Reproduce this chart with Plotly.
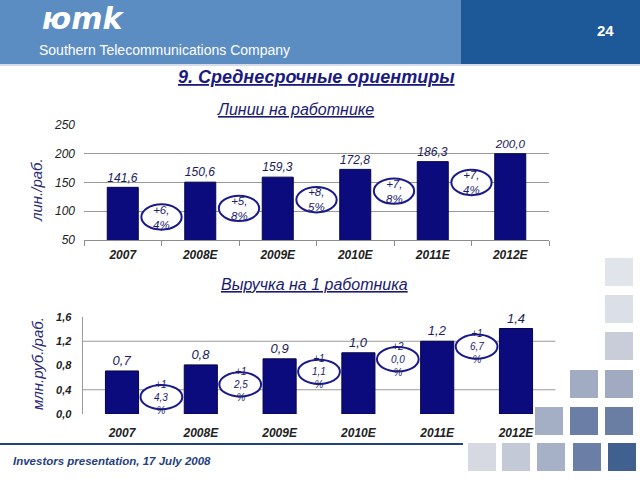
import plotly.graph_objects as go

# ---------------- data ----------------
categories = ["2007", "2008E", "2009E", "2010E", "2011E", "2012E"]
lines_per_worker = [141.6, 150.6, 159.3, 172.8, 186.3, 200.0]
lines_growth = ["+6,4%", "+5,8%", "+8,5%", "+7,8%", "+7,4%"]
revenue_per_worker = [0.71, 0.81, 0.91, 1.01, 1.20, 1.41]
revenue_growth = ["+14,3%", "+12,5%", "+11,1%", "+20,0%", "+16,7%"]
lines_ticks = [50, 100, 150, 200, 250]
revenue_ticks = [0.0, 0.4, 0.8, 1.2, 1.6]

W, H = 640, 480
NAVY = "#0b0b7e"
TXT = "#1c1c5a"
FONT = "Liberation Sans"


def px(x):
    return x / W


def py(y):
    return 1 - y / H


def fmt(v, d=1):
    return f"{v:.{d}f}".replace(".", ",")


fig = go.Figure()

fig.add_trace(go.Bar(
    x=categories, y=lines_per_worker, xaxis="x", yaxis="y",
    marker=dict(color=NAVY, line=dict(color="#05054a", width=1)),
    width=0.4,
    text=[fmt(v) for v in lines_per_worker], textposition="outside",
    textfont=dict(family=FONT, size=13, color=TXT, style="italic"),
    cliponaxis=False, hoverinfo="skip",
))
fig.add_trace(go.Bar(
    x=categories, y=revenue_per_worker, xaxis="x2", yaxis="y2",
    marker=dict(color=NAVY, line=dict(color="#05054a", width=1)),
    width=0.42,
    text=[fmt(v) for v in revenue_per_worker], textposition="outside",
    textfont=dict(family=FONT, size=13, color=TXT, style="italic"),
    cliponaxis=False, hoverinfo="skip",
))

tickfont = dict(family=FONT, size=12, color="#222222", style="italic", weight="bold")

fig.update_layout(
    width=W, height=H, margin=dict(l=0, r=0, t=0, b=0, pad=0, autoexpand=False),
    paper_bgcolor="white", plot_bgcolor="rgba(0,0,0,0)",
    showlegend=False, bargap=0.6,
    font=dict(family=FONT),
    xaxis=dict(domain=[px(84), px(549)], anchor="y", type="category", automargin=False,
               range=[-0.5, 5.5], showline=True, linecolor="#8c8c8c", linewidth=1,
               ticks="outside", tickson="boundaries", ticklen=5, tickcolor="#8c8c8c",
               ticklabelstandoff=4,
               tickfont=tickfont, showgrid=False, fixedrange=True),
    yaxis=dict(domain=[py(240), py(125)], anchor="x", range=[50, 250], automargin=False,
               tickvals=lines_ticks, ticktext=[str(t) for t in lines_ticks],
               showgrid=True, gridcolor="#9a9a9a", gridwidth=1, zeroline=False,
               showline=False, ticks="", ticklabelstandoff=8,
               tickfont=dict(family=FONT, size=12, color="#222222", style="italic")),
    xaxis2=dict(domain=[px(82.6), px(555.4)], anchor="y2", type="category", automargin=False,
                range=[-0.5, 5.5], showline=False, ticks="", ticklabelstandoff=10,
                tickfont=tickfont, showgrid=False),
    yaxis2=dict(domain=[py(414), py(317)], anchor="x2", range=[0, 1.6], automargin=False,
                tickvals=revenue_ticks, ticktext=[fmt(t) for t in revenue_ticks],
                showgrid=False, zeroline=False, showline=True, linecolor="#9a9a9a",
                ticks="", ticklabelstandoff=8,
                tickfont=dict(family=FONT, size=11, color="#222222", style="italic", weight="bold")),
)

shapes = []
ann = []

# header
shapes.append(dict(type="rect", xref="paper", yref="paper", x0=0, x1=px(461), y0=py(64), y1=1,
                   fillcolor="#5b8dc3", line_width=0, layer="below"))
shapes.append(dict(type="rect", xref="paper", yref="paper", x0=px(461), x1=1, y0=py(64), y1=1,
                   fillcolor="#1d5899", line_width=0, layer="below"))
shapes.append(dict(type="rect", xref="paper", yref="paper", x0=0, x1=1, y0=py(66), y1=py(64),
                   fillcolor="#d6dde8", line_width=0, layer="below"))
ann.append(dict(text="<b><i>юmk</i></b>", x=px(40), y=py(19), xref="paper", yref="paper",
                xanchor="left", yanchor="middle", showarrow=False,
                font=dict(family="DejaVu Sans", size=30, color="white")))
ann.append(dict(text="Southern Telecommunications Company", x=px(37), y=py(50), xref="paper", yref="paper",
                xanchor="left", yanchor="middle", showarrow=False,
                font=dict(family=FONT, size=14, color="white")))
ann.append(dict(text="<b>24</b>", x=px(605), y=py(30), xref="paper", yref="paper",
                xanchor="center", yanchor="middle", showarrow=False,
                font=dict(family=FONT, size=15, color="white")))

# main title
ann.append(dict(text="<b><i><u>9. Среднесрочные ориентиры</u></i></b>", x=px(316), y=py(77),
                xref="paper", yref="paper", xanchor="center", yanchor="middle", showarrow=False,
                font=dict(family=FONT, size=18, color="#1a1a80")))

# chart titles
ann.append(dict(text="<i><u>Линии на работнике</u></i>", x=px(295), y=py(110),
                xref="paper", yref="paper", xanchor="center", yanchor="middle", showarrow=False,
                font=dict(family=FONT, size=16, color="#1a1a6e")))
ann.append(dict(text="<i><u>Выручка на 1 работника</u></i>", x=px(314), y=py(284),
                xref="paper", yref="paper", xanchor="center", yanchor="middle", showarrow=False,
                font=dict(family=FONT, size=16, color="#1a1a6e")))

# y axis titles
ann.append(dict(text="<i>лин./раб.</i>", x=px(37), y=py(190), xref="paper", yref="paper",
                xanchor="center", yanchor="middle", textangle=-90, showarrow=False,
                font=dict(family=FONT, size=15, color="#2a2a78")))
ann.append(dict(text="<i>млн.руб./раб.</i>", x=px(37), y=py(364), xref="paper", yref="paper",
                xanchor="center", yanchor="middle", textangle=-90, showarrow=False,
                font=dict(family=FONT, size=15, color="#2a2a78")))

# gridlines of chart 2
for g in (0.4, 1.2):
    shapes.append(dict(type="line", xref="x2 domain", yref="y2", x0=0, x1=1, y0=g, y1=g,
                       line=dict(color="#9a9a9a", width=1), layer="below"))

# growth ellipses, chart 1
E1_BASE, E1_STEP, E1_W, E1_H = 90, 15, 0.52, 44
for i, g in enumerate(lines_growth):
    cx = i + 0.5
    cy = E1_BASE + E1_STEP * i
    shapes.append(dict(type="circle", xref="x", yref="y", x0=cx - E1_W / 2, x1=cx + E1_W / 2,
                       y0=cy - E1_H / 2, y1=cy + E1_H / 2, fillcolor="white",
                       line=dict(color="#1a1a8c", width=2), layer="above"))
    ann.append(dict(text="<i>" + g[:3] + "<br>" + g[3:] + "</i>", x=cx, y=cy, xref="x", yref="y",
                    showarrow=False, xanchor="center", yanchor="middle",
                    font=dict(family=FONT, size=11.5, color="#1a1a6e")))

# growth ellipses, chart 2
E2_BASE, E2_STEP, E2_W, E2_H = 0.28, 0.208, 0.53, 0.40
for i, g in enumerate(revenue_growth):
    cx = i + 0.5
    cy = E2_BASE + E2_STEP * i
    shapes.append(dict(type="circle", xref="x2", yref="y2", x0=cx - E2_W / 2, x1=cx + E2_W / 2,
                       y0=cy - E2_H / 2, y1=cy + E2_H / 2, fillcolor="white",
                       line=dict(color="#1a1a8c", width=2), layer="above"))
    ann.append(dict(text="<i>" + g[:2] + "<br>" + g[2:-1] + "<br>" + g[-1] + "</i>", x=cx, y=cy,
                    xref="x2", yref="y2", showarrow=False, xanchor="center", yanchor="middle",
                    font=dict(family=FONT, size=10, color="#1a1a6e")))

# footer
shapes.append(dict(type="line", xref="paper", yref="paper", x0=0, x1=px(463), y0=py(444), y1=py(444),
                   line=dict(color="#23417c", width=2)))
ann.append(dict(text="<b><i>Investors presentation, 17 July 2008</i></b>", x=px(11), y=py(461),
                xref="paper", yref="paper", xanchor="left", yanchor="middle", showarrow=False,
                font=dict(family=FONT, size=11.5, color="#24407e")))

# decorative squares (col x, row y, color)
squares = [
    (605, 258, "#e1e4eb"),
    (605, 295, "#dadfe8"),
    (605, 332, "#c8cdd9"),
    (570, 370, "#a1abc2"), (605, 370, "#a0aac0"),
    (535, 407, "#a4afc5"), (570, 407, "#6b7fa6"), (605, 407, "#6a7ea3"),
    (468, 443, "#d6d9e2"), (502, 443, "#c3c9d6"), (537, 443, "#a6b1c7"),
    (573, 443, "#6b7fa6"), (608, 443, "#40608f"),
]
for sx, sy, c in squares:
    shapes.append(dict(type="rect", xref="paper", yref="paper", x0=px(sx), x1=px(sx + 28),
                       y0=py(sy + 28), y1=py(sy), fillcolor=c, line_width=0, layer="below"))

fig.update_layout(shapes=shapes, annotations=ann)
fig.write_html("out.html", config={"displayModeBar": False},
               post_script="document.body.style.margin='0';document.body.style.overflow='hidden';")
